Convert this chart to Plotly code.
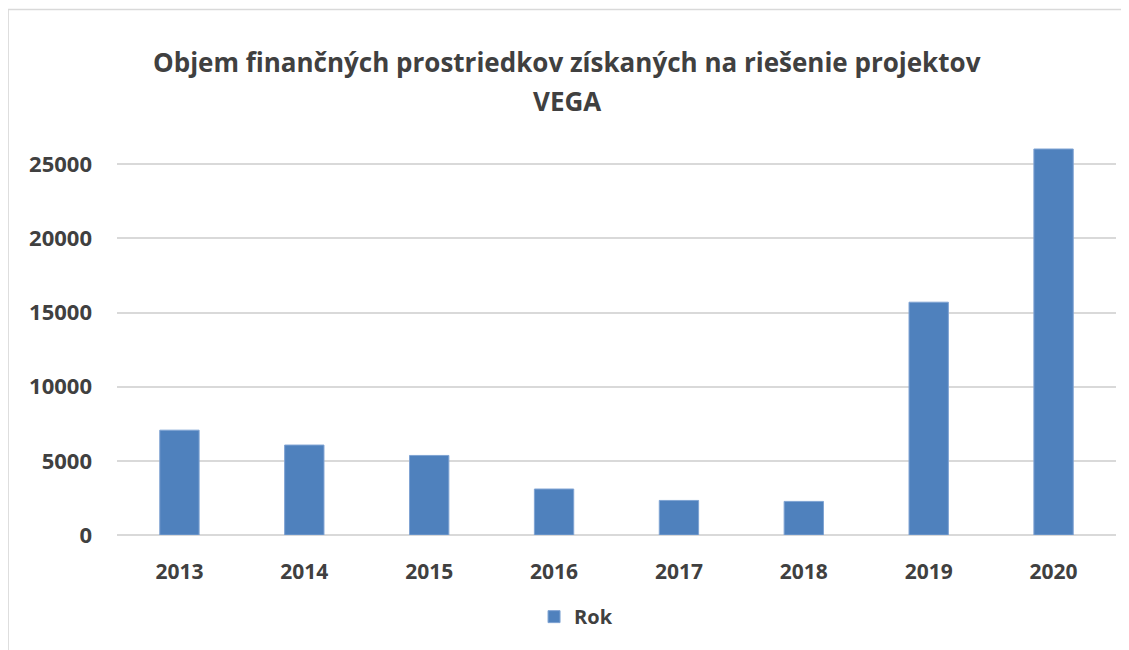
import plotly.graph_objects as go

years = ["2013", "2014", "2015", "2016", "2017", "2018", "2019", "2020"]
values = [7070, 6065, 5365, 3100, 2330, 2265, 15700, 26030]
series_name = "Rok"
title_lines = ["Objem finančných prostriedkov získaných na riešenie projektov", "VEGA"]

FONT = "'Open Sans', sans-serif"
TXT = "#404040"

# the page body adds an 8px margin; work in screen pixels and convert
OFF = 8
W, H = 1129 - OFF, 650 - OFF
plot_left, plot_right = 116.5 - OFF, 1116.5 - OFF
plot_top, plot_bottom = 140.0 - OFF, 535.3 - OFF
px_per_unit = 14.84 / 1000
ymax = (plot_bottom - plot_top) / px_per_unit

def px_x(px):
    return (px - OFF - plot_left) / (plot_right - plot_left)

def px_y(py):
    return (plot_bottom - (py - OFF)) / (plot_bottom - plot_top)

fig = go.Figure()
fig.add_trace(go.Bar(
    x=years, y=values, name="<b>" + series_name + "</b>",
    marker=dict(color="#4f81bd", line=dict(color="#7fa3d3", width=1)),
    showlegend=True,
))

annotations = []
for line, ypx in zip(title_lines, [62, 101]):
    annotations.append(dict(
        text="<b>" + line + "</b>", showarrow=False,
        xref="paper", yref="paper", x=px_x(567), y=px_y(ypx),
        xanchor="center", yanchor="middle",
        font=dict(family=FONT, size=26, color=TXT),
    ))

fig.update_layout(
    width=W, height=H,
    margin=dict(l=plot_left, r=W - plot_right, t=plot_top, b=H - plot_bottom, autoexpand=False),
    paper_bgcolor="white", plot_bgcolor="white",
    bargap=0.685,
    font=dict(family=FONT, color=TXT),
    annotations=annotations,
    xaxis=dict(
        type="category",
        tickfont=dict(family=FONT, size=21, color=TXT),
        ticklabelstandoff=22,
        showgrid=False, showline=False, ticks="",
        tickprefix="<b>", ticksuffix="</b>",
    ),
    yaxis=dict(
        range=[0, ymax],
        tickvals=[0, 5000, 10000, 15000, 20000, 25000],
        ticktext=["<b>0</b>", "<b>5000</b>", "<b>10000</b>", "<b>15000</b>", "<b>20000</b>", "<b>25000</b>"],
        tickfont=dict(family=FONT, size=22, color=TXT),
        ticklabelstandoff=24,
        showgrid=True, gridcolor="#d9d9d9", gridwidth=1.5,
        zeroline=True, zerolinecolor="#d9d9d9", zerolinewidth=1.5,
        showline=False, ticks="",
    ),
    legend=dict(
        orientation="h", x=px_x(576), xanchor="center",
        y=px_y(617), yanchor="middle",
        font=dict(family=FONT, size=20, color=TXT),
        itemwidth=30,
    ),
    shapes=[dict(
        type="rect", xref="paper", yref="paper",
        x0=px_x(7.5), x1=px_x(1140), y0=px_y(660), y1=px_y(9.5),
        line=dict(color="#d9d9d9", width=1.5), fillcolor="rgba(0,0,0,0)",
        layer="below",
    )],
)

fig.write_html("out.html")
